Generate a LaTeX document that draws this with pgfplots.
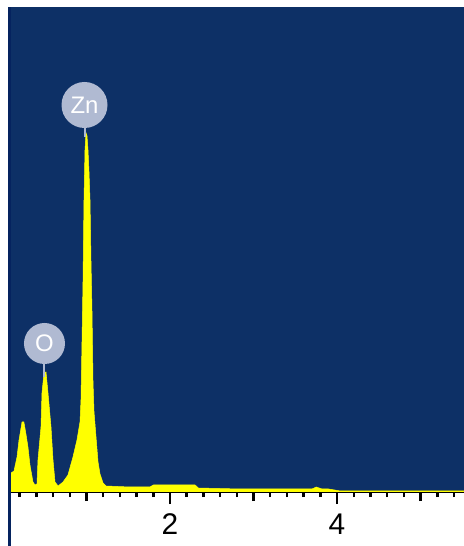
\documentclass[border=0pt]{standalone}
\usepackage{fontspec}
\setmainfont{Liberation Sans}
\usepackage{pgfplots}
\pgfplotsset{compat=1.18}
\definecolor{bgblue}{RGB}{13,48,102}
\definecolor{edgeblue}{RGB}{5,35,95}
\definecolor{lbl}{RGB}{176,186,210}
\definecolor{pk}{RGB}{255,255,0}
\begin{document}
\begin{tikzpicture}
\fill[white] (0,0) rectangle (464bp,546bp);
\useasboundingbox (0,0) rectangle (464bp,546bp);
\begin{axis}[
 at={(8.5bp,54bp)}, anchor=south west,
 scale only axis, width=455.5bp, height=485bp,
 xmin=0.066, xmax=5.52, ymin=0, ymax=485,
 axis background/.style={fill=bgblue},
 axis x line=bottom, axis y line=none,
 x axis line style={-, line width=2.5bp, black},
 xtick={2,4},
 extra x ticks={1,3,5}, extra x tick labels={},
 extra x tick style={major tick length=9bp},
 minor xtick={0.2,0.4,0.6,0.8,1.2,1.4,1.6,1.8,2.2,2.4,2.6,2.8,3.2,3.4,3.6,3.8,4.2,4.4,4.6,4.8,5.2,5.4},
 tick align=outside, major tick length=12bp, minor tick length=5bp,
 tick style={line width=2.5bp, black},
 ytick=\empty,
 xticklabel style={font=\fontsize{30}{30}\selectfont, yshift=-6bp},
 /pgf/number format/assume math mode=true,
]
\addplot[draw=pk, fill=pk, line width=0.5bp] coordinates {
(0.066,6) (0.096,19) (0.132,21) (0.168,35) (0.192,52) (0.228,70) (0.25,70)
(0.275,58) (0.299,45) (0.323,27) (0.359,10) (0.383,7) (0.407,8) (0.419,32)
(0.455,65) (0.467,99) (0.491,119) (0.515,120) (0.539,99) (0.575,65) (0.599,32)
(0.623,10) (0.659,6) (0.719,10) (0.778,17) (0.838,35) (0.886,52) (0.922,70)
(0.934,92) (0.946,150) (0.958,210) (0.970,292) (0.982,342) (0.994,359)
(1.006,356) (1.018,342) (1.030,320) (1.042,292) (1.054,230) (1.066,180)
(1.078,110) (1.090,80) (1.114,55) (1.138,30) (1.162,18) (1.198,9) (1.234,6)
(1.52,5) (1.76,5) (1.80,7) (2.30,7) (2.34,4) (2.84,3) (3.70,3) (3.75,5) (3.82,3) (3.9,3) (4.04,1) (5.52,1)
} \closedcycle;
\draw[lbl, line width=2bp] (axis cs:0.497,115) -- (axis cs:0.497,150);
\node[circle, fill=lbl, minimum size=41bp, inner sep=0pt, text=white,
  font=\fontsize{24}{24}\selectfont] at (axis cs:0.497,148.5) {O};
\draw[lbl, line width=2bp] (axis cs:0.985,355) -- (axis cs:0.985,387);
\node[circle, fill=lbl, minimum size=46bp, inner sep=0pt, text=white,
  font=\fontsize{24}{24}\selectfont] at (axis cs:0.976,387) {Zn};
\end{axis}
\draw[edgeblue, line width=3bp] (9.5bp,0) -- (9.5bp,539bp);
\end{tikzpicture}
\end{document}
